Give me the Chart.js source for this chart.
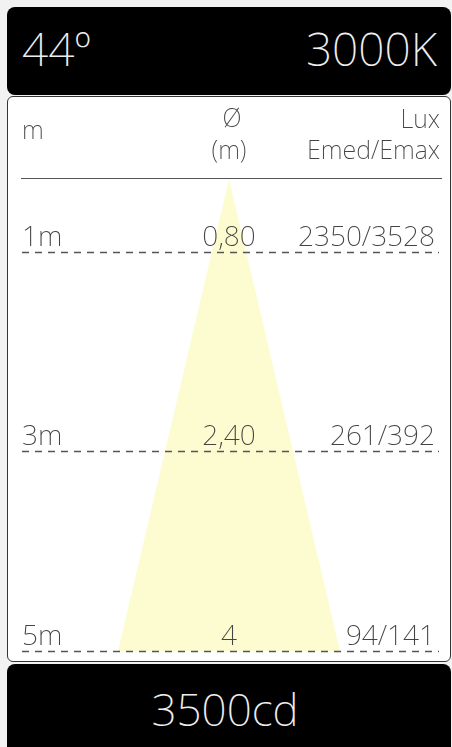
<!DOCTYPE html>
<html>
<head>
<meta charset="utf-8">
<script src="https://cdn.jsdelivr.net/npm/chart.js@4.4.1/dist/chart.umd.min.js"></script>
<style>
  html, body { margin: 0; padding: 0; background: #f2f2f2; width: 452px; height: 747px; overflow: hidden; font-family: "Noto Sans", Roboto, sans-serif; font-weight: 200; }
  .bar { position: absolute; left: 7px; width: 444px; background: #000; color: #eeeeee; }
  #top { top: 7px; height: 88px; border-radius: 8px; }
  #top span { position: absolute; top: 14px; font-size: 46px; line-height: 1.2; }
  #bottom { top: 664px; height: 90px; border-radius: 8px 8px 0 0; text-align: center; }
  #bottom span { position: absolute; left: 0; right: 0; top: 19px; font-size: 44px; line-height: 1.2; margin-left: -8px; }
  #panel { position: absolute; left: 7px; top: 96px; width: 444px; height: 566px; box-sizing: border-box; border: 1.5px solid #333; border-radius: 6px; background: #fff; }
  #wrap { position: absolute; left: 0; top: 0; width: 441px; height: 563px; }
</style>
</head>
<body>
<div class="bar" id="top"><span id="angle" style="left:15px"></span><span id="temp" style="right:14px"></span></div>
<div id="panel"><div id="wrap"><canvas id="mycanvas"></canvas></div></div>
<div class="bar" id="bottom"><span id="cd"></span></div>
<script>
// values
var beamAngle = '44º';
var colorTemp = '3000K';
var intensity = '3500cd';

var headLeft = ['m'];
var headMid = ['Ø', '(m)'];
var headRight = ['Lux', 'Emed/Emax'];

var distances = [1, 3, 5];
var distLabels = ['1m', '3m', '5m'];
var diameters = ['0,80', '2,40', '4'];
var luxLabels = ['2350/3528', '261/392', '94/141'];

// beam cone: half widths (m) and distances (m)
var coneX = [-2, 0, 2];
var coneY = [5, 0.27, 5];

document.getElementById('angle').textContent = beamAngle;
document.getElementById('temp').textContent = colorTemp;
document.getElementById('cd').textContent = intensity;

var conePoints = [];
for (var i in coneX) {
    conePoints.push({ x: coneX[i], y: coneY[i] });
}

var textColor = '#444';
var fontName = '"Noto Sans"';

var tablePlugin = {
    id: 'table',
    afterDatasetsDraw: function (chart) {
        var ctx = chart.ctx;
        var area = chart.chartArea;
        var xs = chart.scales.x;
        var ys = chart.scales.y;
        var left = area.left;
        var right = area.right - 6;
        var mid = xs.getPixelForValue(0);
        ctx.save();
        ctx.fillStyle = textColor;
        ctx.textBaseline = 'alphabetic';

        // heading
        ctx.font = '200 25px ' + fontName;
        ctx.textAlign = 'left';
        ctx.fillText(headLeft[0], left, 42);
        ctx.textAlign = 'center';
        ctx.fillText(headMid[0], mid + 3, 30);
        ctx.fillText(headMid[1], mid, 62);
        ctx.textAlign = 'right';
        ctx.fillText(headRight[0], right + 5, 31);
        ctx.fillText(headRight[1], right + 5, 62);

        ctx.strokeStyle = '#555';
        ctx.lineWidth = 1;
        ctx.beginPath();
        ctx.moveTo(left - 1, 81.5);
        ctx.lineTo(area.right + 1, 81.5);
        ctx.stroke();

        // rows
        ctx.font = '200 28px ' + fontName;
        ctx.setLineDash([7, 6]);
        ctx.lineWidth = 1.3;
        for (var i in distances) {
            var y = Math.round(ys.getPixelForValue(distances[i])) + 0.5;
            ctx.beginPath();
            ctx.moveTo(left, y);
            ctx.lineTo(area.right - 2, y);
            ctx.stroke();
            ctx.textAlign = 'left';
            ctx.fillText(distLabels[i], left, y - 7);
            ctx.textAlign = 'center';
            ctx.fillText(diameters[i], mid, y - 7);
            ctx.textAlign = 'right';
            ctx.fillText(luxLabels[i], right, y - 7);
        }
        ctx.restore();
    }
};

var ctx = document.getElementById('mycanvas');

var chart = new Chart(ctx, {
    type: 'scatter',
    data: {
        datasets: [{
            data: conePoints,
            showLine: true,
            tension: 0,
            borderWidth: 0,
            pointRadius: 0,
            backgroundColor: '#fdfbd0',
            fill: { value: 5 }
        }]
    },
    options: {
        responsive: true,
        maintainAspectRatio: false,
        animation: false,
        events: [],
        layout: { padding: { left: 14, right: 8, top: 55, bottom: 9 } },
        plugins: { legend: { display: false }, tooltip: { enabled: false } },
        scales: {
            x: { type: 'linear', display: false, min: -3.73, max: 3.82 },
            y: { type: 'linear', display: false, reverse: true, min: 0, max: 5 }
        }
    },
    plugins: [tablePlugin]
});
</script>
</body>
</html>
